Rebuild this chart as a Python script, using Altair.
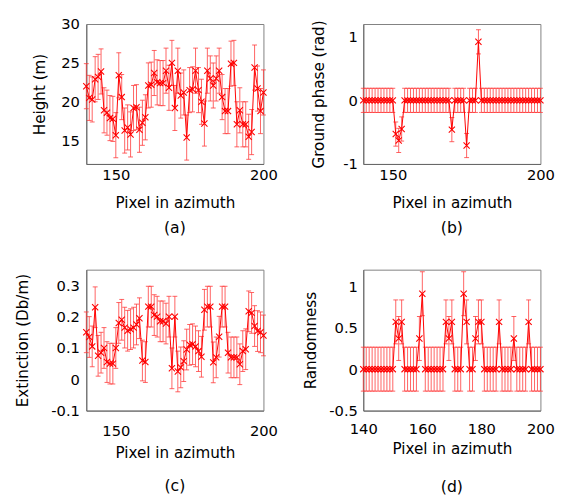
import altair as alt
import pandas as pd

pixels = list(range(140, 201))

height_m = [22.0, 20.5, 20.3, 22.9, 23.2, 23.9, 18.9, 18.6, 17.9, 17.8,
            15.7, 23.4, 20.6, 16.3, 16.7, 15.8, 19.2, 19.3, 16.4, 17.3,
            18.0, 22.1, 22.2, 23.7, 22.5, 22.4, 22.4, 24.0, 21.8, 25.0,
            19.2, 24.0, 20.8, 21.2, 15.4, 21.5, 21.6, 24.0, 21.5, 20.0,
            17.2, 24.0, 23.0, 22.1, 23.0, 24.0, 20.6, 18.8, 18.8, 24.9,
            25.0, 17.1, 18.9, 17.1, 17.1, 15.5, 16.1, 24.4, 21.7, 18.8, 21.2]
height_err = 2.9

ground_phase = [0, 0, 0, 0, 0, 0, 0, 0, 0, 0,
                0, -0.53, -0.63, -0.45, 0, 0, 0, 0, 0, 0,
                0, 0, 0, 0, 0, 0, 0, 0, 0, 0,
                -0.46, 0, 0, 0, 0, -0.71, 0, 0, 0, 0.92,
                0, 0, 0, 0, 0, 0, 0, 0, 0, 0,
                0, 0, 0, 0, 0, 0, 0, 0, 0, 0, 0]
ground_err = 0.19

extinction = [0.15, 0.135, 0.105, 0.23, 0.075, 0.085, 0.10, 0.055, 0.05, 0.05,
              0.10, 0.18, 0.19, 0.165, 0.155, 0.16, 0.165, 0.175, 0.195, 0.06,
              0.055, 0.232, 0.232, 0.205, 0.20, 0.185, 0.185, 0.178, 0.20, 0.035,
              0.20, 0.025, 0.038, 0.058, 0.095, 0.11, 0.112, 0.105, 0.09, 0.072,
              0.222, 0.232, 0.232, 0.054, 0.07, 0.136, 0.232, 0.232, 0.085, 0.07,
              0.07, 0.07, 0.048, 0.09, 0.096, 0.217, 0.212, 0.17, 0.154, 0.15, 0.14]
extinction_err = 0.065

randomness = [0, 0, 0, 0, 0, 0, 0, 0, 0, 0,
              0, 0.57, 0.37, 0.57, 0, 0, 0, 0, 0, 0.37,
              0.91, 0, 0, 0, 0, 0, 0, 0, 0.57, 0.37,
              0.57, 0, 0, 0, 0.91, 0.57, 0, 0, 0.37, 0.57,
              0.57, 0, 0, 0, 0, 0, 0.57, 0, 0, 0,
              0, 0.37, 0, 0, 0, 0, 0.57, 0, 0, 0, 0]
randomness_err = 0.265

FONT = "DejaVu Sans"
CROSS = "M-1,-1L1,1M-1,1L1,-1"


def panel(vals, err, ytitle, ydomain, yticks, xticks, label, h,
          lab_pad, title_pad, ylab_pad, ytitle_pad, label_offset):
    df = pd.DataFrame({"x": pixels, "v": vals})
    base = alt.Chart(df).transform_calculate(
        lo=f"datum.v - {err}", hi=f"datum.v + {err}")
    xs = alt.Scale(domain=[140, 200], nice=False, zero=False, padding=0)
    ys = alt.Scale(domain=ydomain, nice=False, zero=False, padding=0)
    xaxis = alt.Axis(values=xticks, title="Pixel in azimuth", format="d",
                     labelPadding=lab_pad, titlePadding=title_pad,
                     labelFlush=False)
    yaxis = alt.Axis(values=yticks, title=ytitle, format="~g",
                     labelPadding=ylab_pad, titlePadding=ytitle_pad,
                     labelFlush=False)
    X = alt.X("x:Q", scale=xs, axis=xaxis, title="Pixel in azimuth")
    bars = base.mark_errorbar(ticks=True, size=5, thickness=1,
                              color="#ff3a3a", opacity=0.8).encode(
        x=X, y=alt.Y("lo:Q", scale=ys, axis=yaxis, title=ytitle), y2="hi:Q")
    line = base.mark_line(color="#ff0000", strokeWidth=1).encode(
        x=X, y=alt.Y("v:Q", scale=ys, axis=yaxis, title=ytitle))
    pts = base.mark_point(shape=CROSS, size=40, color="#ff0000",
                          strokeWidth=1.1, filled=False, opacity=1).encode(
        x=X, y=alt.Y("v:Q", scale=ys, axis=yaxis, title=ytitle))
    return alt.layer(bars, line, pts).properties(
        width=181, height=h,
        title=alt.TitleParams(label, orient="bottom", offset=label_offset,
                              font=FONT, fontSize=16, fontWeight="normal",
                              color="black"))


pa = panel(height_m, height_err, "Height (m)", [12, 30], [15, 20, 25, 30],
           [150, 200], "(a)", 143, 4, 13, 7, 14, 10)
pb = panel(ground_phase, ground_err, "Ground phase (rad)", [-1, 1.2], [-1, 0, 1],
           [150, 200], "(b)", 143, 4, 13, 6, 17, 10)
pc = panel(extinction, extinction_err, "Extinction (Db/m)", [-0.1, 0.35],
           [-0.1, 0, 0.1, 0.2, 0.3], [150, 200], "(c)", 144, 13, 8, 7, 21, 18)
pd_ = panel(randomness, randomness_err, "Randomness", [-0.5, 1.2],
            [-0.5, 0, 0.5, 1], [140, 160, 180, 200], "(d)", 144, 11, 6, 6, 11, 23)

chart = alt.concat(pa, pb, pc, pd_, columns=2, bounds="flush",
                   spacing={"row": 108, "column": 102}).properties(
    padding={"left": 7, "top": 3, "right": 5, "bottom": 0}
).configure(
    locale=alt.Locale(number=alt.NumberLocale(
        decimal=".", thousands=",", grouping=[3], currency=["", ""], minus="-"))
).configure_view(
    stroke="#808080", strokeWidth=1
).configure_axis(
    labelFont=FONT, titleFont=FONT, labelFontSize=15, titleFontSize=15.5,
    labelColor="black", titleColor="black", titleFontWeight="normal",
    domain=True, domainColor="#666666", ticks=False, grid=False
)

chart.save("out.html", embed_options={"renderer": "svg", "actions": False})
